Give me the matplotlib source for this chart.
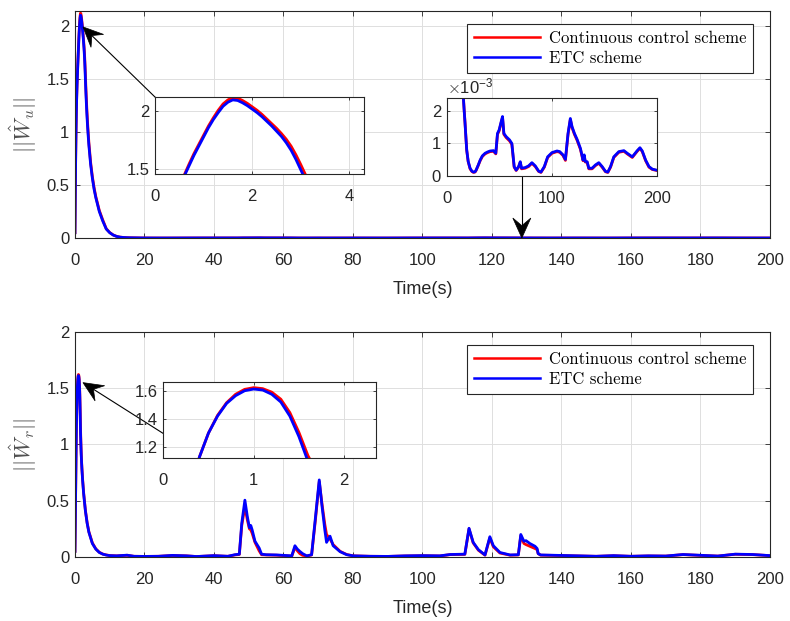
import matplotlib
matplotlib.use("Agg")
import numpy as np
import matplotlib.pyplot as plt
from matplotlib.ticker import FuncFormatter
from matplotlib.patches import Polygon
from matplotlib.lines import Line2D
from matplotlib.transforms import IdentityTransform

plt.rcParams['font.family'] = ['Liberation Sans', 'DejaVu Sans']
plt.rcParams['mathtext.fontset'] = 'cm'

# ---------------- data: ||W_u|| ----------------
t_u = [0.0, 0.1, 0.2, 0.3, 0.4, 0.5, 0.6, 0.7, 0.8, 0.9, 1.0, 1.1, 1.2, 1.3, 1.4, 1.5,
       1.6, 1.7, 1.8, 1.9, 2.0, 2.1, 2.2, 2.3, 2.4, 2.5, 2.6, 2.7, 2.8, 2.9, 3.0, 3.1,
       3.2, 3.4, 3.6, 3.8, 4.0, 4.5, 5.0, 5.5, 6.0, 7.0, 8.0, 9.0, 10.0, 11.0, 12.0,
       13.0, 14.0, 15.0, 15.9, 16.7, 17.5, 18.3, 19.1, 20.5, 22.3, 24.0, 25.5, 27.0,
       28.0, 30.0, 31.9, 34.0, 36.6, 39.0, 41.4, 44.6, 46.8, 48.4, 50.0, 51.9, 53.2,
       54.5, 56.7, 59.9, 62.1, 64.3, 66.2, 68.5, 70.1, 71.3, 74.8, 78.0, 81.2, 84.4,
       87.6, 89.8, 93.0, 96.2, 100.3, 105.1, 107.7, 110.8, 113.1, 115.6, 117.8, 119.4,
       121.7, 124.2, 127.4, 129.9, 131.0, 132.0, 133.8, 135.4, 138.5, 141.7, 144.9,
       148.1, 151.3, 153.5, 156.1, 159.2, 164.0, 168.8, 172.0, 176.8, 181.5, 184.1,
       186.3, 189.5, 192.7, 195.9, 200.0]

wu_cont = [0.05, 0.43, 0.76, 1.01, 1.20, 1.34, 1.45, 1.545, 1.635, 1.715, 1.795, 1.875,
           1.945, 2.01, 2.065, 2.10, 2.12, 2.115, 2.095, 2.07, 2.04, 2.01, 1.975, 1.935,
           1.895, 1.855, 1.81, 1.76, 1.70, 1.625, 1.54, 1.45, 1.37, 1.225, 1.10, 0.995,
           0.90, 0.715, 0.58, 0.475, 0.39, 0.26, 0.17, 0.088, 0.052, 0.029, 0.0155,
           0.0085, 0.0052, 0.0034, 0.00245, 0.00202, 0.00163, 0.00121, 0.00079, 0.00044,
           0.00022, 0.00014, 0.00011, 0.00012, 0.00017, 0.00032, 0.00047, 0.00060,
           0.00068, 0.00072, 0.00075, 0.00076, 0.00068, 0.00128, 0.00139, 0.00164,
           0.00180, 0.00128, 0.00118, 0.00108, 0.00097, 0.00027, 0.00017, 0.00027,
           0.00042, 0.00022, 0.00024, 0.00029, 0.00039, 0.00029, 0.00014, 0.00011,
           0.00027, 0.00057, 0.00070, 0.00075, 0.00073, 0.00063, 0.00048, 0.00128,
           0.00174, 0.00149, 0.00128, 0.00110, 0.00082, 0.00047, 0.00062, 0.00043,
           0.00042, 0.00022, 0.00022, 0.00032, 0.00039, 0.00027, 0.00013, 0.00011,
           0.00027, 0.00057, 0.00073, 0.00076, 0.00068, 0.00057, 0.00076, 0.00085,
           0.00075, 0.00047, 0.00027, 0.00020, 0.00017]

wu_etc = [0.05, 0.42, 0.75, 1.00, 1.19, 1.33, 1.44, 1.53, 1.62, 1.70, 1.78, 1.86,
          1.93, 1.99, 2.045, 2.08, 2.10, 2.095, 2.075, 2.05, 2.02, 1.99, 1.955, 1.915,
          1.875, 1.83, 1.785, 1.73, 1.665, 1.585, 1.495, 1.405, 1.325, 1.185, 1.065,
          0.965, 0.875, 0.695, 0.565, 0.46, 0.38, 0.25, 0.16, 0.085, 0.05, 0.028,
          0.015, 0.0082, 0.0050, 0.0033, 0.0024, 0.0020, 0.00162, 0.0012, 0.0008,
          0.00045, 0.00024, 0.00015, 0.00012, 0.00013, 0.00018, 0.00033, 0.00049,
          0.00062, 0.00070, 0.00074, 0.00077, 0.00078, 0.00070, 0.00131, 0.00142,
          0.00167, 0.00183, 0.00131, 0.00121, 0.00111, 0.00100, 0.00029, 0.00018,
          0.00029, 0.00044, 0.00024, 0.00026, 0.00031, 0.00041, 0.00031, 0.00015,
          0.00012, 0.00029, 0.00059, 0.00072, 0.00077, 0.00075, 0.00065, 0.00051,
          0.00131, 0.00177, 0.00152, 0.00131, 0.00113, 0.00085, 0.00049, 0.00065,
          0.00045, 0.00044, 0.00024, 0.00024, 0.00034, 0.00041, 0.00029, 0.00014,
          0.00012, 0.00029, 0.00059, 0.00075, 0.00078, 0.00070, 0.00059, 0.00078,
          0.00087, 0.00077, 0.00049, 0.00029, 0.00021, 0.00018]

# ---------------- data: ||W_r|| ----------------
t_r = [0.0, 0.1, 0.2, 0.3, 0.4, 0.5, 0.6, 0.7, 0.8, 0.9, 1.0, 1.1, 1.2, 1.3, 1.4, 1.5,
       1.6, 1.7, 1.8, 1.9, 2.0, 2.2, 2.5, 3.0, 3.5, 4.0, 5.0, 6.0, 7.0, 8.0, 9.0, 10.0,
       12.0, 15.0, 17.0, 20.0, 24.0, 28.0, 32.0, 35.0, 40.0, 44.0, 46.0, 47.3, 48.0,
       48.9, 49.6, 50.2, 50.6, 51.0, 51.8, 53.0, 53.7, 55.0, 58.0, 62.4, 63.3, 64.0,
       64.7, 65.5, 66.7, 68.1, 69.2, 70.3, 71.1, 71.9, 72.4, 73.4, 74.3, 76.3, 78.2,
       80.1, 85.0, 90.0, 95.0, 100.0, 105.0, 108.0, 112.2, 113.4, 114.6, 116.1, 118.0,
       119.4, 120.4, 122.3, 125.2, 127.6, 128.3, 129.2, 129.8, 130.9, 132.4, 133.0,
       133.3, 134.0, 138.0, 145.0, 150.0, 155.0, 160.0, 165.0, 170.0, 175.0, 180.0,
       185.0, 190.0, 195.0, 200.0]

wr_cont = [0.05, 0.32, 0.60, 0.88, 1.13, 1.30, 1.425, 1.515, 1.575, 1.61, 1.622, 1.615,
           1.59, 1.54, 1.445, 1.305, 1.14, 1.02, 0.925, 0.85, 0.79, 0.69, 0.57, 0.415,
           0.305, 0.225, 0.125, 0.072, 0.042, 0.026, 0.018, 0.013, 0.010, 0.015, 0.006,
           0.005, 0.006, 0.013, 0.010, 0.004, 0.011, 0.006, 0.018, 0.022, 0.28, 0.45,
           0.33, 0.25, 0.24, 0.21, 0.13, 0.055, 0.02, 0.018, 0.016, 0.008, 0.085, 0.055,
           0.03, 0.015, 0.008, 0.018, 0.33, 0.67, 0.47, 0.29, 0.20, 0.16, 0.11, 0.05,
           0.022, 0.01, 0.006, 0.005, 0.009, 0.011, 0.009, 0.021, 0.023, 0.25, 0.125,
           0.06, 0.016, 0.17, 0.09, 0.035, 0.016, 0.018, 0.19, 0.12, 0.11, 0.095, 0.075,
           0.065, 0.03, 0.016, 0.014, 0.009, 0.006, 0.011, 0.006, 0.009, 0.008, 0.021,
           0.014, 0.008, 0.024, 0.021, 0.012]

wr_etc = [0.05, 0.32, 0.60, 0.88, 1.13, 1.30, 1.42, 1.51, 1.565, 1.60, 1.612, 1.605,
          1.575, 1.52, 1.42, 1.275, 1.10, 1.00, 0.91, 0.84, 0.78, 0.68, 0.56, 0.41,
          0.30, 0.22, 0.12, 0.07, 0.04, 0.025, 0.017, 0.012, 0.010, 0.016, 0.006,
          0.005, 0.006, 0.014, 0.010, 0.004, 0.012, 0.006, 0.020, 0.025, 0.30, 0.505,
          0.36, 0.26, 0.28, 0.24, 0.14, 0.08, 0.025, 0.02, 0.018, 0.01, 0.10, 0.07,
          0.05, 0.03, 0.01, 0.02, 0.35, 0.685, 0.45, 0.24, 0.13, 0.185, 0.10, 0.047,
          0.02, 0.01, 0.006, 0.005, 0.01, 0.012, 0.01, 0.022, 0.025, 0.255, 0.13,
          0.065, 0.018, 0.18, 0.10, 0.04, 0.018, 0.02, 0.20, 0.14, 0.145, 0.12, 0.095,
          0.075, 0.03, 0.018, 0.015, 0.01, 0.006, 0.012, 0.006, 0.01, 0.008, 0.022,
          0.015, 0.008, 0.025, 0.022, 0.012]

x_ticks = [0, 20, 40, 60, 80, 100, 120, 140, 160, 180, 200]
legend_labels = ['Continuous control scheme', 'ETC scheme']
x_label = 'Time(s)'
ylabel_u = r'$||\hat{W}_u||$'
ylabel_r = r'$||\hat{W}_r||$'

RED = (1, 0, 0)
BLUE = (0, 0, 1)
AX_COL = '#262626'
GRID_COL = '#dedede'
LW = 2.0

fig = plt.figure(figsize=(7.9, 6.21), dpi=100)


def style(ax, fs=12, tl=3.5, xpad=11, ypad=4):
    ax.set_facecolor('white')
    for s in ax.spines.values():
        s.set_color(AX_COL)
        s.set_linewidth(0.8)
    ax.tick_params(direction='in', top=True, right=True, length=tl, width=0.6,
                   colors=AX_COL, labelsize=fs, labelcolor=AX_COL)
    ax.tick_params(axis='x', pad=xpad)
    ax.tick_params(axis='y', pad=ypad)
    ax.grid(True, color=GRID_COL, linewidth=0.7)
    ax.set_axisbelow(True)


def plot_pair(ax, t, yc, ye, lw=LW):
    l1, = ax.plot(t, yc, color=RED, lw=lw, solid_joinstyle='round')
    l2, = ax.plot(t, ye, color=BLUE, lw=lw, solid_joinstyle='round')
    return l1, l2


def legend(ax, handles, anchor):
    leg = ax.legend(handles, legend_labels, loc='upper right', bbox_to_anchor=anchor,
                    prop={'family': 'cmr10', 'size': 12}, fancybox=False,
                    edgecolor='#262626', framealpha=1, handlelength=4.0,
                    borderpad=0.4, labelspacing=0.3, handletextpad=0.5,
                    borderaxespad=0)
    leg.get_frame().set_linewidth(0.8)
    for hh in leg.legend_handles:
        hh.set_linewidth(1.8)


def vback_arrow(ax, tip, start, head_len=20, half_w=9, notch=0.62):
    """MATLAB-style 'vback2' arrow drawn in display pixels, under later axes."""
    p_tip = ax.transData.transform(tip)
    p_start = ax.transData.transform(start)
    d = p_tip - p_start
    u = d / np.hypot(*d)
    n = np.array([-u[1], u[0]])
    base = p_tip - u * head_len
    c1 = base + n * half_w
    c2 = base - n * half_w
    nb = p_tip - u * head_len * notch
    ln = Line2D([p_start[0], nb[0]], [p_start[1], nb[1]], color='black', lw=0.8,
                transform=IdentityTransform(), zorder=5)
    poly = Polygon([p_tip, c1, nb, c2], closed=True, facecolor='black',
                   edgecolor='black', lw=0.5, transform=IdentityTransform(), zorder=5)
    ax.add_artist(ln)
    ax.add_artist(poly)


# ---------- top main axes ----------
ax1 = fig.add_axes([0.0949, 0.6167, 0.8797, 0.3656])
style(ax1)
h = plot_pair(ax1, t_u, wu_cont, wu_etc)
ax1.set_xlim(0, 200)
ax1.set_ylim(0, 2.14)
ax1.set_xticks(x_ticks)
ax1.set_yticks([0, 0.5, 1, 1.5, 2])
ax1.set_yticklabels(['0', '0.5', '1', '1.5', '2'])
ax1.set_xlabel(x_label, fontsize=13, color=AX_COL)
ax1.xaxis.set_label_coords(0.5, -0.19)
ax1.set_ylabel(ylabel_u, fontsize=16, color='#505050')
ax1.yaxis.set_label_coords(-0.052, 0.5)
legend(ax1, h, (0.9755, 0.943))
vback_arrow(ax1, (2.3, 1.99), (23.0, 1.33))
vback_arrow(ax1, (128.6, 0.0), (128.6, 0.59))

# inset 1 (top, zoom on peak)
ins1 = fig.add_axes([0.1962, 0.7198, 0.2646, 0.124])
style(ins1, tl=2.5)
plot_pair(ins1, t_u, wu_cont, wu_etc)
ins1.set_xlim(0, 4.3)
ins1.set_ylim(1.46, 2.125)
ins1.set_xticks([0, 2, 4])
ins1.set_yticks([1.5, 2])
ins1.set_yticklabels(['1.5', '2'])

# inset 2 (top, zoom on tail)
ins2 = fig.add_axes([0.5654, 0.7166, 0.2658, 0.1256])
style(ins2, tl=2.5)
plot_pair(ins2, t_u, wu_cont, wu_etc)
ins2.set_xlim(0, 200)
ins2.set_ylim(0, 0.0024)
ins2.set_xticks([0, 100, 200])
ins2.set_yticks([0, 0.001, 0.002])
ins2.yaxis.set_major_formatter(FuncFormatter(lambda v, p: f'{v * 1e3:g}'))
ins2.text(0.0, 1.02, r'$\times\mathregular{10^{-3}}$', transform=ins2.transAxes,
          fontsize=12, color=AX_COL, ha='left', va='bottom')

# ---------- bottom main axes ----------
ax2 = fig.add_axes([0.0949, 0.1031, 0.8797, 0.3623])
style(ax2)
h2 = plot_pair(ax2, t_r, wr_cont, wr_etc)
ax2.set_xlim(0, 200)
ax2.set_ylim(0, 2)
ax2.set_xticks(x_ticks)
ax2.set_yticks([0, 0.5, 1, 1.5, 2])
ax2.set_yticklabels(['0', '0.5', '1', '1.5', '2'])
ax2.set_xlabel(x_label, fontsize=13, color=AX_COL)
ax2.xaxis.set_label_coords(0.5, -0.19)
ax2.set_ylabel(ylabel_r, fontsize=16, color='#505050')
ax2.yaxis.set_label_coords(-0.052, 0.5)
legend(ax2, h2, (0.9755, 0.942))
vback_arrow(ax2, (2.3, 1.55), (25.3, 1.10))

ins3 = fig.add_axes([0.2067, 0.263, 0.2689, 0.1214])
style(ins3, tl=2.5)
plot_pair(ins3, t_r, wr_cont, wr_etc)
ins3.set_xlim(0, 2.35)
ins3.set_ylim(1.125, 1.66)
ins3.set_xticks([0, 1, 2])
ins3.set_yticks([1.2, 1.4, 1.6])

fig.savefig('out.png', dpi=100, facecolor='white')
